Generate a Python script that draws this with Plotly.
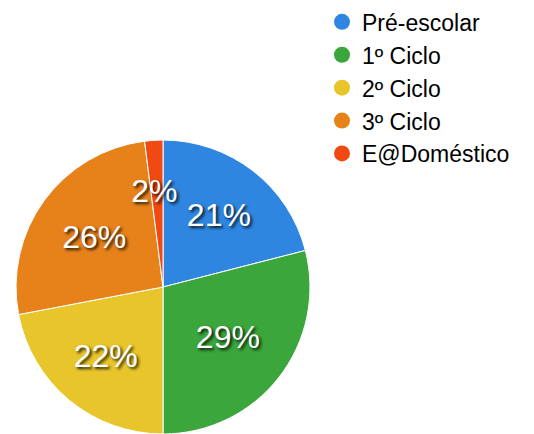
import plotly.graph_objects as go

categories = ["Pré-escolar", "1º Ciclo", "2º Ciclo", "3º Ciclo", "E@Doméstico"]
values = [21, 29, 22, 26, 2]
colors = ["#2e86e0", "#3aa63b", "#e8c52a", "#e7821b", "#f04912"]

FONT = "Liberation Sans, Arial, Helvetica, sans-serif"
W, H = 534, 434

fig = go.Figure()
fig.add_trace(go.Pie(
    labels=categories,
    values=values,
    sort=False,
    direction="clockwise",
    rotation=0,
    marker=dict(colors=colors, line=dict(color="white", width=1)),
    texttemplate=["%{percent}", "%{percent}", "%{percent}", "%{percent}",
                  " <br> <br>%{percent}"],
    textposition="inside",
    insidetextorientation="horizontal",
    textfont=dict(family=FONT, size=32, color="white",
                  shadow="2px 2px 3px rgba(0,0,0,0.85)"),
    domain=dict(x=[15/W, 311/W], y=[0, 296/H]),
    showlegend=False,
    hoverinfo="label+percent",
))

for name, col in zip(categories, colors):
    fig.add_trace(go.Scatter(
        x=[None], y=[None], mode="markers", name=name,
        marker=dict(size=17, color=col, symbol="circle"),
        showlegend=True,
    ))

fig.update_layout(
    width=W, height=H,
    margin=dict(l=0, r=0, t=0, b=0),
    paper_bgcolor="white", plot_bgcolor="white",
    xaxis=dict(visible=False), yaxis=dict(visible=False),
    uniformtext=dict(minsize=32, mode="show"),
    legend=dict(x=322/W, y=1.006, xanchor="left", yanchor="top",
                font=dict(family=FONT, size=23, color="black"),
                bgcolor="rgba(0,0,0,0)", itemclick=False),
    font=dict(family=FONT),
)

fig.write_html("out.html", config={"displayModeBar": False},
               post_script="document.body.style.margin='0';document.body.style.overflow='hidden';")
